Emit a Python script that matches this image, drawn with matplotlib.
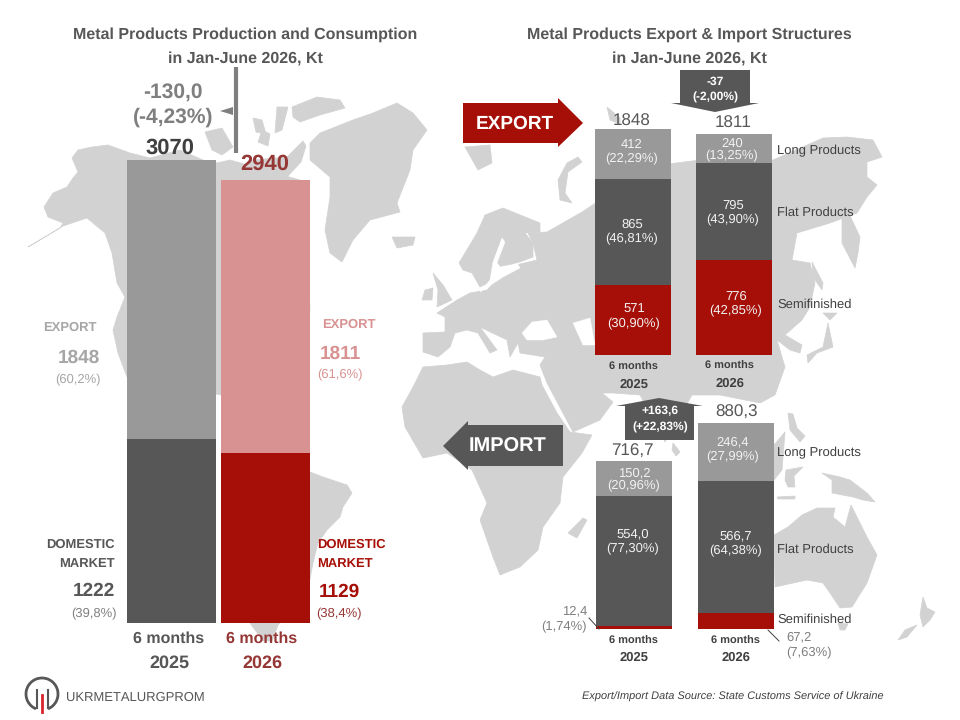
import matplotlib
matplotlib.use("Agg")
import matplotlib.pyplot as plt
from matplotlib.patches import Polygon, Arc

plt.rcParams['font.family'] = ['Liberation Sans', 'DejaVu Sans']
plt.rcParams['text.hinting'] = 'no_hinting'
plt.rcParams['text.hinting_factor'] = 1

# values (Kt)
periods = ["6 months", "2025", "2026"]
domestic = [1222, 1129]
export_total = [1848, 1811]
total = [3070, 2940]

export_semi = [571, 776]
export_flat = [865, 795]
export_long = [412, 240]
export_labels_semi = ["571\n(30,90%)", "776\n(42,85%)"]
export_labels_flat = ["865\n(46,81%)", "795\n(43,90%)"]
export_labels_long = ["412\n(22,29%)", "240\n(13,25%)"]
export_sum = ["1848", "1811"]

import_semi = [12.4, 67.2]
import_flat = [554.0, 566.7]
import_long = [150.2, 246.4]
import_labels_flat = ["554,0\n(77,30%)", "566,7\n(64,38%)"]
import_labels_long = ["150,2\n(20,96%)", "246,4\n(27,99%)"]
import_sum = ["716,7", "880,3"]
product_names = ["Long Products", "Flat Products", "Semifinished"]

GREY = "#999999"
DARK = "#575757"
RED = "#a60f07"
PINK = "#d89292"
WINE = "#953735"
LAND = "#d2d2d2"
TXT = "#404040"

# background world map, traced by hand in picture pixels
land = [
    # north america
    [(72,158),(78,150),(92,147),(108,145),(130,153),(150,158),(180,150),(203,160),(217,163),(230,160),
     (300,180),(308,250),(310,310),(300,390),(221,395),(127,377),(118,353),(113,330),(117,317),(125,297),
     (117,283),(112,253),(105,233),(87,218),(63,226),(45,237),(28,247),(60,228),(63,223),(48,217),
     (44,207),(53,193),(67,187),(73,178),(78,172)],
    # south america
    [(225,470),(310,472),(323,477),(347,485),(352,493),(343,507),(340,517),(327,530),(318,543),(313,563),
     (308,590),(278,625),(272,641),(263,641),(250,623),(225,560)],
    # arctic islands
    [(292,107),(317,97),(340,100),(345,108),(320,115),(300,122),(293,117)],
    [(277,107),(288,107),(282,130),(275,133)],
    [(233,173),(253,160),(287,157),(303,141),(306,146),(301,162),(287,177),(250,180)],
    [(205,132),(222,128),(233,147),(222,155),(212,150)],
    [(253,118),(262,120),(266,134),(256,132)],
    [(262,130),(270,134),(268,146),(258,142)],
    # greenland, iceland
    [(320,133),(353,120),(373,113),(397,103),(413,113),(427,130),(413,150),(410,170),(397,203),(400,212),
     (370,220),(353,240),(342,262),(330,253),(325,230),(330,197),(330,177),(310,160),(310,143)],
    [(392,237),(415,237),(413,245),(397,248)],
    # svalbard, novaya zemlya, franz josef
    [(465,147),(490,145),(492,163),(478,170)],
    [(578,157),(582,162),(568,172),(565,193),(572,203),(560,200),(558,180),(567,163)],
    [(607,107),(620,118),(620,124),(610,120)],
    # eurasia
    [(423,333),(445,332),(445,317),(437,313),(457,300),(470,293),(487,290),(503,273),(520,264),(537,260),
     (533,243),(528,233),(547,232),(582,212),(600,200),(600,180),(660,165),(700,160),(773,160),(823,138),
     (847,137),(873,140),(882,157),(867,162),(867,177),(877,185),(867,197),(857,213),(830,223),(797,233),
     (792,260),(810,263),(815,283),(810,307),(802,320),(785,335),(802,345),(800,353),(790,350),(777,340),
     (785,367),(775,395),(760,403),(720,395),(692,395),(665,442),(640,395),(613,393),(600,393),(582,378),
     (602,393),(613,402),(600,420),(573,432),(547,383),(540,365),(545,357),(520,353),(518,343),(510,357),
     (507,340),(480,327),(497,350),(490,353),(478,333),(467,330),(455,333),(450,347),(438,357),(423,352)],
    # scandinavia
    [(459,263),(477,233),(485,215),(503,208),(540,223),(540,232),(525,233),(533,243),(533,257),(517,263),
     (497,267),(490,282),(480,287),(472,273),(463,270)],
    # britain, ireland
    [(433,273),(443,285),(452,300),(437,307),(438,290)],
    [(425,290),(433,288),(432,300),(422,300)],
    # africa
    [(423,367),(447,365),(467,362),(480,370),(493,377),(513,370),(540,377),(542,385),(557,413),(570,432),
     (592,435),(582,453),(563,477),(560,503),(543,527),(538,550),(520,567),(500,575),(493,557),(480,520),
     (487,503),(472,470),(447,453),(423,458),(405,427),(402,407),(413,387)],
    [(583,518),(587,520),(577,538),(568,533)],
    [(673,443),(680,452),(676,456),(672,450)],
    # east asia
    [(842,200),(852,220),(860,237),(858,253),(855,268),(842,243)],
    [(812,262),(823,283),(822,290),(813,277)],
    [(828,323),(833,347),(817,353),(808,363),(807,355),(823,347)],
    [(823,313),(837,313),(830,320)],
    # south east asia, oceania
    [(788,413),(793,414),(797,428),(805,436),(800,442),(790,430)],
    [(774,445),(785,432),(782,470),(774,480)],
    [(786,470),(803,467),(794,476),(795,487),(788,487),(785,480)],
    [(777,497),(795,496),(795,499),(778,499)],
    [(822,473),(840,477),(850,480),(867,493),(875,502),(863,500),(853,497),(832,493),(832,480)],
    [(774,535),(788,527),(802,515),(817,508),(835,508),(833,517),(845,527),(851,505),(857,517),(867,537),
     (877,555),(867,583),(852,607),(840,608),(830,593),(823,583),(807,580),(775,587)],
    [(838,623),(848,624),(845,630),(840,630)],
    [(923,597),(927,608),(935,612),(930,620),(923,627),(920,615)],
    [(917,625),(907,637),(898,640),(905,630)],
]
seas = [
    [(522,333),(532,322),(547,320),(557,337),(543,340),(527,340)],
    [(573,323),(590,318),(595,345),(583,345)],
    [(502,238),(505,242),(497,263),(503,270),(517,263),(520,268),(503,277),(480,292),(490,280),(493,262)],
]

fig = plt.figure(figsize=(9.6, 7.2), dpi=100, facecolor="white")


def px_axes(x0, y0, x1, y1, zorder=1):
    return fig.add_axes([x0 / 960, 1 - y1 / 720, (x1 - x0) / 960, (y1 - y0) / 720], zorder=zorder)


bg = px_axes(0, 0, 960, 720, zorder=0)
bg.set_xlim(0, 960)
bg.set_ylim(720, 0)
bg.axis("off")
for shape in land:
    bg.add_patch(Polygon(shape, closed=True, fc=LAND, ec=LAND, lw=0.5))
for shape in seas:
    bg.add_patch(Polygon(shape, closed=True, fc="white", ec="white", lw=0.3))


def bar_axes(x0, y0, x1, y1, width, spacing, top):
    ax = px_axes(x0, y0, x1, y1, zorder=1)
    half = width / spacing / 2
    ax.set_xlim(-half, 1 + half)
    ax.set_ylim(0, top)
    ax.axis("off")
    ax.patch.set_alpha(0)
    return ax, width / spacing


def stack(ax, w, layers):
    bottom = [0, 0]
    for values, colors in layers:
        ax.bar([0, 1], values, w, bottom=bottom, color=colors, linewidth=0)
        bottom = [b + v for b, v in zip(bottom, values)]


# left chart
ax_main, w = bar_axes(127, 160, 310, 623, 89, 94, max(total))
stack(ax_main, w, [(domestic, [DARK, RED]), (export_total, [GREY, PINK])])

# export structure
ax_exp, w = bar_axes(595, 129, 772, 355, 76, 101, max(export_semi[i] + export_flat[i] + export_long[i] for i in range(2)))
stack(ax_exp, w, [(export_semi, RED), (export_flat, DARK), (export_long, GREY)])

# import structure
ax_imp, w = bar_axes(596, 423, 774, 629, 76, 102, 880.3)
stack(ax_imp, w, [(import_semi, RED), (import_flat, DARK), (import_long, GREY)])

# everything else sits on top in pixel coordinates
top = px_axes(0, 0, 960, 720, zorder=2)
top.set_xlim(0, 960)
top.set_ylim(720, 0)
top.axis("off")
top.patch.set_alpha(0)


def t(x, y, s, size=9.3, color=TXT, bold=False, ha="center", style="normal", spacing=1.2):
    top.text(x, y + 1.5, s, fontsize=size, color=color, ha=ha, va="center", linespacing=spacing,
             fontweight="bold" if bold else "normal", fontstyle=style)


# titles
t(245, 33, "Metal Products Production and Consumption", 11.7, DARK, True)
t(245, 58, "in Jan-June 2026, Kt", 11.7, DARK, True)
t(689, 33, "Metal Products Export & Import Structures", 11.7, DARK, True)
t(689, 58, "in Jan-June 2026, Kt", 11.7, DARK, True)

# change marker left
top.plot([235.5, 235.5], [67, 153], color="#7f7f7f", lw=3, solid_capstyle="butt")
top.add_patch(Polygon([(220, 111), (233, 107), (233, 115)], fc="#7f7f7f", ec="none"))
t(173, 91, "-130,0", 15, "#7f7f7f", True)
t(173, 116, "(-4,23%)", 15, "#7f7f7f", True)
t(170, 147, str(total[0]), 16, TXT, True)
t(265, 163, str(total[1]), 16, WINE, True)

# left side labels
t(70, 326, "EXPORT", 9.5, "#a6a6a6", True)
t(79, 356, str(export_total[0]), 13.5, "#a6a6a6", True)
t(78, 378, "(60,2%)", 9, "#a6a6a6")
t(349, 323, "EXPORT", 9.5, PINK, True)
t(340, 352, str(export_total[1]), 13.5, PINK, True)
t(340, 373, "(61,6%)", 9, PINK)
t(115, 543, "DOMESTIC", 9.4, DARK, True, ha="right")
t(115, 562, "MARKET", 9.4, DARK, True, ha="right")
t(94, 590, str(domestic[0]), 13.5, DARK, True)
t(94, 612, "(39,8%)", 9, "#7f7f7f")
t(317, 543, "DOMESTIC", 9.4, RED, True, ha="left")
t(317, 562, "MARKET", 9.4, RED, True, ha="left")
t(339, 590, str(domestic[1]), 13.5, RED, True)
t(339, 612, "(38,4%)", 9, WINE)
t(169, 637, periods[0], 11.5, DARK, True)
t(169, 662, periods[1], 13, DARK, True)
t(262, 637, periods[0], 11.5, WINE, True)
t(262, 662, periods[2], 13, WINE, True)

# arrows
top.add_patch(Polygon([(463, 103), (558, 103), (558, 98), (583, 123), (558, 147), (558, 143), (463, 143)], fc=RED, ec="none"))
t(515, 122, "EXPORT", 14, "white", True)
top.add_patch(Polygon([(563, 425), (468, 425), (468, 421), (443, 446), (468, 470), (468, 466), (563, 466)], fc=DARK, ec="none"))
t(508, 445, "IMPORT", 14.5, "white", True)
top.add_patch(Polygon([(680, 70), (750, 70), (750, 103), (759, 103), (715, 112), (671, 103), (680, 103)], fc=DARK, ec="none"))
t(715, 80, "-37", 8.5, "white", True)
t(715, 96, "(-2,00%)", 8.5, "white", True)
top.add_patch(Polygon([(625, 440), (694, 440), (694, 406), (703, 406), (659, 398), (616, 406), (625, 406)], fc=DARK, ec="none"))
t(660, 410, "+163,6", 8.5, "white", True)
t(660, 426, "(+22,83%)", 8.5, "white", True)

# export labels
t(632, 120, export_sum[0], 12, DARK)
t(733, 122, export_sum[1], 12, DARK)
LIGHT = "#f2f2f2"
t(632, 150, export_labels_long[0], 9.3, LIGHT, spacing=1.25)
t(632, 230, export_labels_flat[0], 9.3, LIGHT, spacing=1.25)
t(634, 315, export_labels_semi[0], 9.3, LIGHT, spacing=1.25)
t(732, 148, export_labels_long[1], 9.3, LIGHT, spacing=1.05)
t(733, 211, export_labels_flat[1], 9.3, LIGHT, spacing=1.25)
t(736, 302, export_labels_semi[1], 9.3, LIGHT, spacing=1.25)
for y, s in zip([149, 211, 303], product_names):
    t(777, y, s, 9.5, TXT, ha="left")
t(633, 366, periods[0], 8, TXT, True)
t(634, 383, periods[1], 9.5, TXT, True)
t(729, 365, periods[0], 8, TXT, True)
t(730, 382, periods[2], 9.5, TXT, True)

# import labels
t(632, 450, import_sum[0], 12.5, DARK)
t(737, 411, import_sum[1], 12.5, DARK)
t(634, 478, import_labels_long[0], 9.3, LIGHT, spacing=1.05)
t(633, 540, import_labels_flat[0], 9.3, LIGHT, spacing=1.25)
t(733, 448, import_labels_long[1], 9.3, LIGHT, spacing=1.25)
t(736, 542, import_labels_flat[1], 9.3, LIGHT, spacing=1.25)
for y, s in zip([451, 548, 618], product_names):
    t(777, y, s, 9.5, TXT, ha="left")
t(587, 609, "12,4", 9.3, "#7f7f7f", ha="right")
t(587, 625, "(1,74%)", 9.3, "#7f7f7f", ha="right")
top.plot([589, 599], [618, 629], color=TXT, lw=0.7)
t(786, 635, "67,2", 9.3, "#7f7f7f", ha="left")
t(786, 651, "(7,63%)", 9.3, "#7f7f7f", ha="left")
top.plot([768, 779], [630, 641], color=TXT, lw=0.7)
t(633, 640, periods[0], 8, TXT, True)
t(634, 656, periods[1], 9.5, TXT, True)
t(735, 640, periods[0], 8, TXT, True)
t(736, 656, periods[2], 9.5, TXT, True)

# footer
t(582, 695, "Export/Import Data Source: State Customs Service of Ukraine", 7.85, TXT, ha="left", style="italic")
t(66, 696, "UKRMETALURGPROM", 9, DARK, ha="left")

# logo
top.add_patch(Arc((42, 694), 32, 32, theta1=112, theta2=68, color=DARK, lw=2))
top.plot([37, 37], [690, 708], color=DARK, lw=1.5)
top.plot([48, 48], [690, 708], color=DARK, lw=1.5)
top.plot([42, 42], [695, 712], color="#d9232e", lw=2)

fig.savefig("out.png", dpi=100)
